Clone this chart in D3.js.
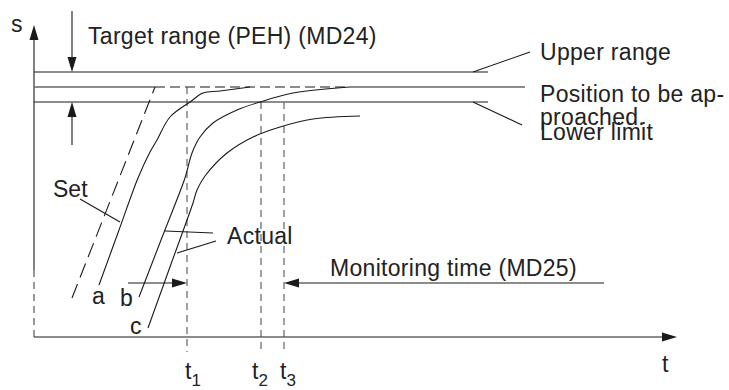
<!DOCTYPE html>
<html>
<head>
<meta charset="utf-8">
<script src="https://cdn.jsdelivr.net/npm/d3@7"></script>
<style>
  html, body { margin: 0; padding: 0; background: #fff; }
  svg { display: block; }
  text { font-family: "Liberation Sans", Arial, Helvetica, sans-serif; fill: #222; }
</style>
</head>
<body>
<svg id="chart" width="729" height="390"></svg>
<script>
// ---- data (units: t along x, s along y) ----
const rangeLevels = [26.5, 25, 23.5];            // upper range, position, lower limit
const rangeLabels = ["Upper range", "Position to be ap-", "proached.", "Lower limit"];
const setLine = [[3.8, 3.9], [12.1, 25.0]];
const curveA = [[6.5, 5.2], [8.45, 10.55], [10.4, 15.9], [11.6, 18.5], [12.3, 19.7], [13.6, 22.0], [15.6, 23.5], [16.9, 24.4], [18.6, 24.6], [21.6, 25.0]];
const curveB = [[10.5, 4.0], [12.8, 9.95], [15.1, 15.9], [15.4, 17.0], [15.8, 18.4], [16.6, 20.0], [17.9, 21.4], [20.3, 22.7], [22.6, 23.5], [25.9, 24.4], [31.6, 25.0]];
const curveC = [[11.4, 0.9], [13.65, 7.15], [15.9, 13.4], [16.3, 14.7], [17.1, 16.1], [19.3, 18.4], [21.9, 20.0], [24.6, 21.0], [27.9, 21.8], [32.6, 22.1]];
const curveNames = ["a", "b", "c"];
const tMarks = [15.3, 22.7, 25.0];
const tSubs = ["1", "2", "3"];
const tTops = [25, 23.5, 23.5];

// ---- scales ----
const x = d3.scaleLinear().domain([0, 64.3]).range([34, 677]);
const y = d3.scaleLinear().domain([0, 25]).range([337, 87]);

const svg = d3.select("#chart");
const ink = "#1a1a1a", gray = "#666";
const FS = 23;

function seg(x1, s1, x2, s2, opts = {}) {
  return svg.append("line")
    .attr("x1", x(x1)).attr("y1", y(s1)).attr("x2", x(x2)).attr("y2", y(s2))
    .attr("stroke", opts.color || ink)
    .attr("stroke-width", opts.w || 1.1)
    .attr("stroke-dasharray", opts.dash || null);
}
function head(tx, ty, dir, len = 15, hw = 4.5) {
  let pts;
  if (dir === "up") pts = [[tx, ty], [tx - hw, ty + len], [tx + hw, ty + len]];
  if (dir === "down") pts = [[tx, ty], [tx - hw, ty - len], [tx + hw, ty - len]];
  if (dir === "right") pts = [[tx, ty], [tx - len, ty - hw], [tx - len, ty + hw]];
  if (dir === "left") pts = [[tx, ty], [tx + len, ty - hw], [tx + len, ty + hw]];
  svg.append("polygon").attr("points", pts.map(p => p.join(",")).join(" ")).attr("fill", ink);
}

// ---- axes ----
seg(0, 6.7, 0, 29.8);
head(x(0), y(31.2), "up");
seg(0, 0, 0, 6.7, { dash: "7,5", color: "#444" });
seg(0, 0, 62.8, 0);
head(x(64.3), y(0), "right");

// ---- range lines ----
seg(0, rangeLevels[0], 45.4, rangeLevels[0]);
seg(0, rangeLevels[2], 45.4, rangeLevels[2]);
seg(0, rangeLevels[1], 12.1, rangeLevels[1], { color: gray, w: 1.6 });
seg(12.1, rangeLevels[1], 31.6, rangeLevels[1], { color: gray, w: 1.6, dash: "10,5" });
seg(31.6, rangeLevels[1], 49.1, rangeLevels[1], { color: gray, w: 1.6 });
seg(43.9, rangeLevels[0], 49.6, 28.5);
seg(43.9, rangeLevels[2], 48.8, 21.2);

// ---- target range arrows ----
seg(3.8, 32.6, 3.8, 27.5);
head(x(3.8), y(rangeLevels[0]), "down");
seg(3.8, 19.2, 3.8, 22.5);
head(x(3.8), y(rangeLevels[2]), "up");

// ---- t markers (dashed) ----
tMarks.forEach((t, i) => {
  seg(t, tTops[i], t, -1.5, { dash: "7,5", color: "#555" });
});

// ---- set line (dashed) ----
seg(setLine[0][0], setLine[0][1], setLine[1][0], setLine[1][1], { dash: "15,7" });

// ---- actual curves ----
const line = d3.line().x(d => x(d[0])).y(d => y(d[1])).curve(d3.curveCatmullRom.alpha(0.5));
[curveA, curveB, curveC].forEach(c => {
  svg.append("path").attr("d", line(c)).attr("fill", "none").attr("stroke", ink).attr("stroke-width", 1.1);
});

// ---- leaders for Set / Actual ----
seg(4.6, 13.8, 8.6, 11.5);
seg(13.1, 10.6, 17.9, 10.4);
seg(14.3, 8.4, 18.2, 9.6);

// ---- monitoring arrows ----
seg(9.4, 5.4, tMarks[0] - 1.2, 5.4);
head(x(tMarks[0]), y(5.4), "right");
seg(57.0, 5.4, tMarks[2] + 1.2, 5.4);
head(x(tMarks[2]), y(5.4), "left");

// ---- text ----
function txt(s, px, py, size = FS) {
  return svg.append("text").attr("x", px).attr("y", py).attr("font-size", size).text(s);
}
txt("s", 11, 32);
txt("Target range (PEH) (MD24)", 88, 44).attr("letter-spacing", 0.3);
txt(rangeLabels[0], 540, 60).attr("letter-spacing", 0.3);
txt(rangeLabels[1], 540, 102).attr("letter-spacing", 0.3);
txt(rangeLabels[2], 540, 125).attr("letter-spacing", 0.3);
txt(rangeLabels[3], 540, 140).attr("letter-spacing", 0.3);
txt("Set", 53, 197);
txt(curveNames[0], 92, 304);
txt(curveNames[1], 120, 306);
txt(curveNames[2], 130, 334);
txt("Actual", 227, 244).attr("letter-spacing", 0.3);
txt("Monitoring time (MD25)", 330, 276).attr("letter-spacing", 0.3);
txt("t", 662, 372);
const tLabelX = [185, 252, 280];
tMarks.forEach((t, i) => {
  const g = svg.append("text").attr("x", tLabelX[i]).attr("y", 379).attr("font-size", FS);
  g.append("tspan").text("t");
  g.append("tspan").attr("font-size", 17).attr("dy", 7).text(tSubs[i]);
});
</script>
</body>
</html>
